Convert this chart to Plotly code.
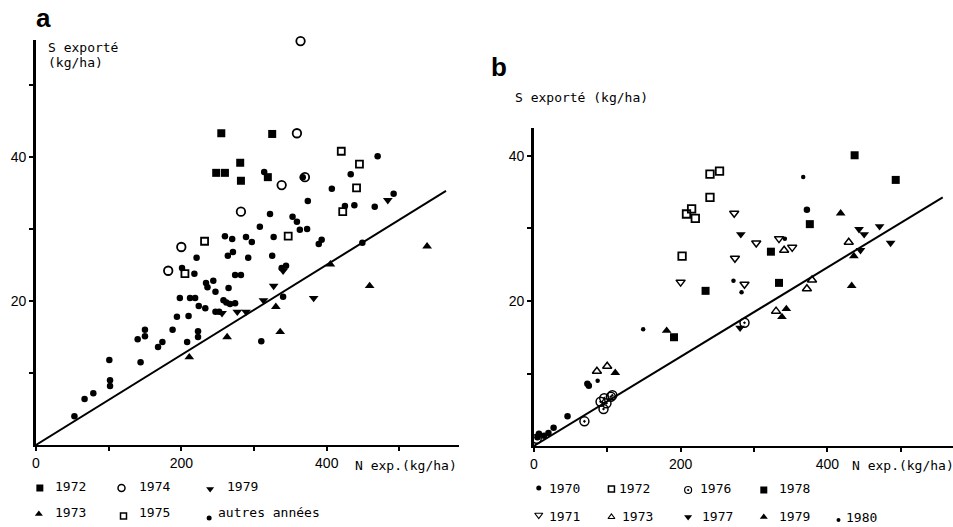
import plotly.graph_objects as go

# ---------------- Panel a data ----------------
a_1972_x = [255, 325, 281, 248, 260, 282, 319]
a_1972_y = [43.3, 43.2, 39.2, 37.8, 37.8, 36.7, 37.2]

a_1974_x = [364, 359, 338, 370, 282, 200, 182]
a_1974_y = [56.1, 43.3, 36.1, 37.2, 32.4, 27.5, 24.2]

a_1975_x = [420, 445, 441, 422, 347, 232, 205]
a_1975_y = [40.8, 39.0, 35.7, 32.4, 29.0, 28.3, 23.8]

a_1973_x = [538, 405, 459, 330, 336, 263, 211]
a_1973_y = [27.6, 25.1, 22.1, 19.2, 15.7, 15.0, 12.2]

a_1979_x = [484, 382, 327, 340, 313, 277, 289, 256]
a_1979_y = [34.0, 20.4, 22.1, 24.2, 20.1, 18.5, 18.5, 18.3]

a_autres_x = [314, 433, 470, 407, 374, 492, 425, 438, 466, 322, 353, 359, 308,
              363, 373, 327, 260, 270, 289, 297, 389, 393, 449, 221, 264, 271,
              292, 325, 367, 201, 218, 234, 236, 244, 247, 265, 274, 282, 198,
              212, 219, 224, 233, 258, 262, 267, 274, 247, 252, 210, 194, 188,
              223, 223, 208, 174, 168, 140, 150, 150, 144, 101, 102, 102, 79,
              67, 53, 310, 340, 338, 344]
a_autres_y = [37.9, 37.6, 40.1, 35.6, 33.9, 34.9, 33.2, 33.3, 33.1, 32.1, 31.7,
              31.0, 30.3, 29.9, 30.0, 28.9, 29.0, 28.6, 28.9, 28.2, 27.9, 28.5,
              28.1, 26.0, 26.3, 26.8, 26.0, 26.3, 37.2, 24.6, 23.8, 22.5, 21.9,
              22.8, 21.3, 21.8, 23.6, 23.6, 20.4, 20.4, 20.4, 19.3, 19.0, 20.1,
              19.8, 19.6, 19.7, 18.5, 18.5, 17.9, 17.8, 16.0, 15.8, 15.0, 14.3,
              14.3, 13.6, 14.7, 16.0, 15.1, 11.5, 11.8, 9.0, 8.2, 7.2, 6.4, 4.0,
              14.4, 20.6, 24.6, 24.9]

line_a_x = [0, 564]
line_a_y = [0, 35.3]

# ---------------- Panel b data ----------------
b_1970_x = [372, 73, 75, 46, 27, 20, 14, 7, 5]
b_1970_y = [32.6, 8.6, 8.3, 4.1, 2.5, 1.8, 1.4, 1.7, 1.2]

b_1980_x = [367, 342, 272, 283, 149, 87]
b_1980_y = [37.1, 28.6, 22.8, 21.2, 16.1, 9.0]

b_1972_x = [240, 253, 240, 215, 208, 220, 202]
b_1972_y = [37.5, 37.9, 34.3, 32.7, 32.0, 31.4, 26.2]

b_1971_x = [273, 303, 334, 352, 274, 200, 287]
b_1971_y = [32.1, 28.0, 28.6, 27.4, 25.9, 22.6, 22.3]

b_1977_x = [282, 443, 450, 471, 486, 445, 281]
b_1977_y = [29.2, 29.9, 29.2, 30.3, 28.0, 27.0, 16.3]

b_1979_x = [418, 436, 433, 338, 344, 181, 111]
b_1979_y = [32.1, 26.2, 22.1, 17.8, 18.9, 15.9, 10.1]

b_1973_x = [429, 341, 379, 372, 330, 86, 100]
b_1973_y = [28.1, 27.0, 22.9, 21.7, 18.6, 10.3, 11.0]

b_1978_x = [437, 493, 376, 323, 334, 234, 191]
b_1978_y = [40.1, 36.7, 30.6, 26.8, 22.5, 21.4, 15.0]

b_1976_x = [69, 91, 96, 105, 107, 99, 95, 287, 4]
b_1976_y = [3.4, 6.1, 6.6, 6.8, 7.0, 5.9, 5.1, 17.0, 1.0]

line_b_x = [0, 557]
line_b_y = [0, 34.3]

# tick labels
x_tickvals = [0, 100, 200, 300, 400, 500]
x_ticktext = ["0", "", "200", "", "400", ""]
y_tickvals = [10, 20, 30, 40, 50]
y_ticktext = ["", "20", "", "40", ""]

BLACK = "black"
MONO = "DejaVu Sans Mono"

fig = go.Figure()


def pts(x, y, xa, ya, symbol, size, lw=0):
    fig.add_trace(go.Scatter(
        x=x, y=y, xaxis=xa, yaxis=ya, mode="markers", showlegend=False,
        cliponaxis=False, hoverinfo="skip",
        marker=dict(symbol=symbol, size=size, color=BLACK,
                    line=dict(color=BLACK, width=lw))))


# regression lines
fig.add_trace(go.Scatter(x=line_a_x, y=line_a_y, xaxis="x", yaxis="y", mode="lines",
                         line=dict(color=BLACK, width=2), showlegend=False, hoverinfo="skip"))
fig.add_trace(go.Scatter(x=line_b_x, y=line_b_y, xaxis="x2", yaxis="y2", mode="lines",
                         line=dict(color=BLACK, width=2), showlegend=False, hoverinfo="skip"))

# panel a
pts(a_autres_x, a_autres_y, "x", "y", "circle", 6.5)
pts(a_1972_x, a_1972_y, "x", "y", "square", 8)
pts(a_1974_x, a_1974_y, "x", "y", "circle-open", 8.5, 1.8)
pts(a_1975_x, a_1975_y, "x", "y", "square-open", 7, 1.8)
pts(a_1973_x, a_1973_y, "x", "y", "triangle-up", 8.5)
pts(a_1979_x, a_1979_y, "x", "y", "triangle-down", 8.5)

# panel b
pts(b_1970_x, b_1970_y, "x2", "y2", "circle", 6.5)
pts(b_1980_x, b_1980_y, "x2", "y2", "circle", 4.5)
pts(b_1972_x, b_1972_y, "x2", "y2", "square-open", 7.5, 1.8)
pts(b_1971_x, b_1971_y, "x2", "y2", "triangle-down-open", 8, 1.5)
pts(b_1973_x, b_1973_y, "x2", "y2", "triangle-up-open", 8, 1.5)
pts(b_1977_x, b_1977_y, "x2", "y2", "triangle-down", 8.5)
pts(b_1979_x, b_1979_y, "x2", "y2", "triangle-up", 8.5)
pts(b_1978_x, b_1978_y, "x2", "y2", "square", 8)
pts(b_1976_x, b_1976_y, "x2", "y2", "circle-open-dot", 9, 1.5)

# legend keys (pixel overlay axis)
leg_sym = [
    ("square", 36, 488, 7, 0), ("circle-open", 118, 488, 7, 1.5), ("triangle-down", 207, 489, 7, 0),
    ("triangle-up", 35, 514, 7, 0), ("square-open", 120, 516, 6, 1.5), ("circle", 206, 518, 5, 0),
    ("circle", 537, 488, 5, 0), ("square-open", 610, 489, 6, 1.5), ("circle-open-dot", 687, 490, 7, 1.2),
    ("square", 763, 490, 7, 0),
    ("triangle-down-open", 537, 515, 7, 1.2), ("triangle-up-open", 610, 517, 6, 1.2),
    ("triangle-down", 687, 517, 7, 0), ("triangle-up", 763, 517, 7, 0), ("circle", 838, 520, 4, 0),
]
for s, x, y, sz, lw in leg_sym:
    pts([x], [y], "x3", "y3", s, sz, lw)

ann = []


def txt(t, x, y, size=13, family=MONO, bold=False):
    ann.append(dict(text=("<b>%s</b>" % t) if bold else t, x=x, y=y, xref="x3", yref="y3",
                    xanchor="left", yanchor="middle", showarrow=False,
                    font=dict(family=family, size=size, color=BLACK)))


txt("a", 30, 18, 26, "Liberation Sans", True)
txt("b", 487, 67, 26, "Liberation Sans", True)
txt("S exporté", 42, 47)
txt("(kg/ha)", 42, 62)
txt("N exp.(kg/ha)", 350, 465)
txt("S exporté (kg/ha)", 511, 97)
txt("N exp.(kg/ha)", 850, 465)
for t, x, y in [("1972", 49, 486), ("1974", 134, 486), ("1979", 222, 486),
                ("1973", 49, 512), ("1975", 134, 512), ("autres années", 213, 512),
                ("1970", 545, 488), ("1972", 616, 488), ("1976", 697, 488), ("1978", 776, 488),
                ("1971", 545, 516), ("1973", 619, 516), ("1977", 699, 516), ("1979", 776, 516),
                ("1980", 844, 517)]:
    txt(t, x, y)

W, H = 953, 527
common_x = dict(showline=True, linecolor=BLACK, linewidth=2, showgrid=False, zeroline=False,
                ticks="outside", ticklen=4, tickwidth=1.5, tickcolor=BLACK,
                tickvals=x_tickvals, ticktext=x_ticktext,
                tickfont=dict(family="Liberation Sans", size=14, color=BLACK))
common_y = dict(showline=True, linecolor=BLACK, linewidth=2.5, showgrid=False, zeroline=False,
                ticks="outside", ticklen=4, tickwidth=1.5, tickcolor=BLACK,
                tickvals=y_tickvals, ticktext=y_ticktext,
                tickfont=dict(family="Liberation Sans", size=14, color=BLACK))

fig.update_layout(
    width=W, height=H, margin=dict(l=0, r=0, t=0, b=0),
    paper_bgcolor="white", plot_bgcolor="rgba(0,0,0,0)",
    xaxis=dict(domain=[32 / W, 457 / W], range=[0, 582], anchor="y", **common_x),
    yaxis=dict(domain=[(H - 445) / H, (H - 40) / H], range=[0, 56.25], anchor="x", **common_y),
    xaxis2=dict(domain=[532 / W, 1.0], range=[0, 571], anchor="y2", **common_x),
    yaxis2=dict(domain=[(H - 446) / H, (H - 128) / H], range=[0, 43.86], anchor="x2", **common_y),
    xaxis3=dict(domain=[0, 1], range=[0, W], visible=False, anchor="y3", fixedrange=True),
    yaxis3=dict(domain=[0, 1], range=[H, 0], visible=False, anchor="x3", fixedrange=True),
    annotations=ann,
    showlegend=False,
)

fig.write_html("out.html", config={"displayModeBar": False},
               post_script="document.body.style.margin='0px';document.body.style.overflow='hidden';")
